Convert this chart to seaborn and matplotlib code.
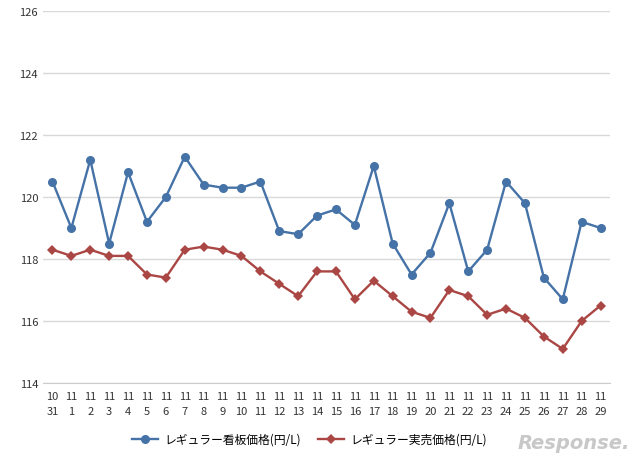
import matplotlib
matplotlib.use("Agg")
import matplotlib.pyplot as plt
import seaborn as sns
import pandas as pd

days = ["10\n31"] + [f"11\n{d}" for d in range(1, 30)]
signboard = [120.5, 119.0, 121.2, 118.5, 120.8, 119.2, 120.0, 121.3, 120.4, 120.3, 120.3, 120.5, 118.9, 118.8, 119.4,
             119.6, 119.1, 121.0, 118.5, 117.5, 118.2, 119.8, 117.6, 118.3, 120.5, 119.8, 117.4, 116.7, 119.2, 119.0]
actual = [118.3, 118.1, 118.3, 118.1, 118.1, 117.5, 117.4, 118.3, 118.4, 118.3, 118.1, 117.6, 117.2, 116.8, 117.6,
          117.6, 116.7, 117.3, 116.8, 116.3, 116.1, 117.0, 116.8, 116.2, 116.4, 116.1, 115.5, 115.1, 116.0, 116.5]
names = ["レギュラー看板価格(円/L)", "レギュラー実売価格(円/L)"]

df = pd.DataFrame({"x": list(range(len(days))) * 2,
                   "v": signboard + actual,
                   "s": [names[0]] * len(days) + [names[1]] * len(days)})

plt.rcParams["font.family"] = "Noto Sans CJK JP"
fig = plt.figure(figsize=(6.4, 4.6), dpi=100)
ax = fig.add_axes([43/640, 1-384/460, 567/640, 372/460])
sns.lineplot(data=df, x="x", y="v", hue="s", style="s", markers=["o", "D"], dashes=False,
             palette=["#4572A7", "#AA4643"], linewidth=1.7, markersize=6.5, markeredgewidth=0, ax=ax)
ax.set_xlim(-0.5, len(days) - 0.5)
ax.set_ylim(114, 126)
ax.set_yticks(range(114, 127, 2))
ax.set_xticks(range(len(days)))
ax.set_xticklabels(days, fontsize=8, color="#333333", linespacing=1.6)
ax.tick_params(axis="y", labelsize=8, colors="#333333", length=0)
ax.tick_params(axis="x", length=0, pad=6)
ax.grid(axis="y", color="#d9d9d9", linewidth=1)
ax.set_axisbelow(True)
for s in ["top", "right", "left"]:
    ax.spines[s].set_visible(False)
ax.spines["bottom"].set_color("#cccccc")
ax.set_xlabel("")
ax.set_ylabel("")
for ln in ax.get_lines():
    if ln.get_marker() == "D":
        ln.set_markersize(5)
ax.legend(loc="upper center", bbox_to_anchor=(0.47, -0.105), ncol=2, frameon=False, fontsize=8.5,
          handlelength=2.2, columnspacing=1.5, handletextpad=0.5)
fig.text(0.985, 0.015, "Response.", ha="right", va="bottom", fontsize=14, color="#c8c8c8",
         style="italic", fontweight="bold", family="DejaVu Sans")
fig.savefig("out.png", dpi=100, facecolor="white")
